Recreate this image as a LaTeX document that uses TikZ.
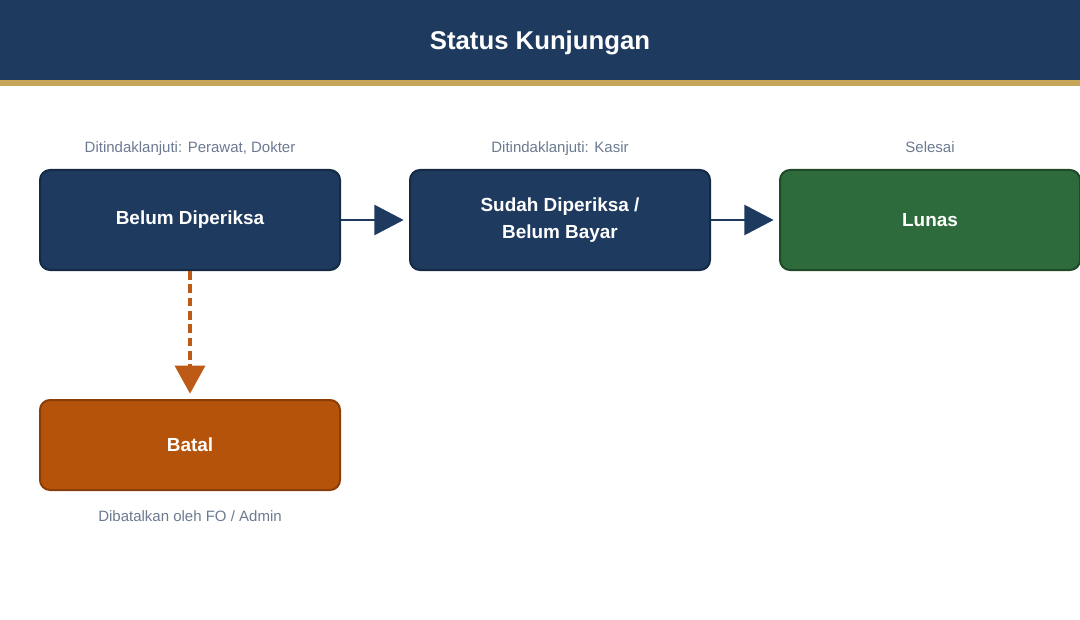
\documentclass[tikz,border=0pt]{standalone}
\usepackage{fontspec}
\setmainfont{Liberation Sans}
\usetikzlibrary{arrows.meta}

\definecolor{navy}{HTML}{1F3A5F}
\definecolor{navyrand}{HTML}{142A45}
\definecolor{gold}{HTML}{C5A55A}
\definecolor{gruen}{HTML}{2E6B3C}
\definecolor{gruenrand}{HTML}{1E4A28}
\definecolor{orange}{HTML}{B5530B}
\definecolor{orangerand}{HTML}{8A3E08}
\definecolor{strich}{HTML}{BC5A16}
\definecolor{grau}{HTML}{6B7A90}

\begin{document}
\begin{tikzpicture}[x=0.75pt, y=-0.75pt,
	box/.style={draw=navyrand, fill=navy, line width=1.5pt, rounded corners=7.5pt,
		minimum width=225pt, minimum height=75pt, align=center,
		text=white, font=\fontsize{14.2}{20.25}\selectfont\bfseries},
	note/.style={anchor=base, text=grau, font=\fontsize{11.25}{14}\selectfont},
	flow/.style={draw=navy, line width=2pt, -{Triangle[length=22pt, width=22.5pt]}, shorten >=4pt},
	cancel/.style={draw=strich, line width=2.5pt, dash pattern=on 6.5pt off 3.5pt,
		-{Triangle[length=21pt, width=22.5pt]}, shorten >=4pt}]
	\useasboundingbox (0,0) rectangle (1080,620);
	
	% Kopfzeile
	\fill[navy] (0,0) rectangle (1080,80);
	\fill[gold] (0,80) rectangle (1080,86);
	\node[anchor=base, text=white, font=\fontsize{19.3}{23}\selectfont\bfseries] (titel) at (540,50) {Status Kunjungan};
	
	\node[box] (belum) at (190,220) {Belum Diperiksa\rule[-4pt]{0pt}{4pt}};
	\node[box] (sudah) at (560,220) {Sudah Diperiksa /\\Belum Bayar};
	\node[box, fill=gruen, draw=gruenrand] (lunas) at (930,220) {Lunas};
	\node[box, fill=orange, draw=orangerand, minimum height=67.5pt] (batal) at (190,445) {Batal};
	
	\node[note] (nbelum) at (190,153) {Ditindaklanjuti: Perawat, Dokter};
	\node[note] (nsudah) at (560,153) {Ditindaklanjuti: Kasir};
	\node[note] (nlunas) at (930,153) {Selesai};
	\node[note] (nbatal) at (190,521) {Dibatalkan oleh FO / Admin};
	
	\draw[flow] (belum) -- (sudah);
	\draw[flow] (sudah) -- (lunas);
	\draw[cancel] (belum) -- (batal);
\end{tikzpicture}
\end{document}
